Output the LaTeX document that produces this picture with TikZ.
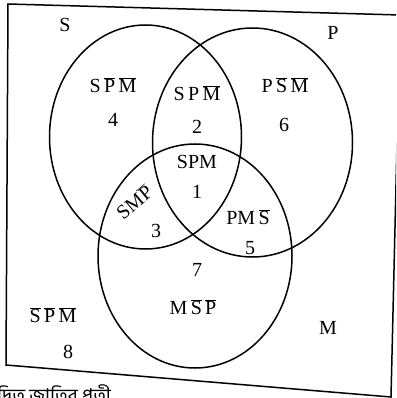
\documentclass[tikz,border=0pt]{standalone}
\usepackage{fontspec}
\setmainfont{Liberation Serif}
\newfontfamily\bnfont[Script=Bengali]{Hind Siliguri}
\newcommand{\olb}[1]{$\overline{\hbox{#1}}$}
\begin{document}
\begin{tikzpicture}[x=1pt,y=-1pt,
  every node/.style={font=\fontsize{20}{24}\selectfont, inner sep=0pt},
  setline/.style={line width=1.5pt, black}]
\useasboundingbox (0,0) rectangle (396,398);
\begin{scope}
\clip (0,0) rectangle (396,398);
% frame
\coordinate (tl) at (8,4);
\coordinate (tr) at (400,15);
\coordinate (br) at (391,397);
\coordinate (bl) at (6,365);
\draw[setline] (tl) -- (tr) -- (br) -- (bl) -- cycle;
% sets
\draw[setline] (145.5,137) ellipse [x radius=96, y radius=112];
\draw[setline] (252.5,142.5) ellipse [x radius=100, y radius=114.5];
\draw[setline] (195,256) ellipse [x radius=97, y radius=112];
% labels
\node (S) at (65,25) {S};
\node (P) at (333,33) {P};
\node (M) at (328,328) {M};
\node (r4) at (113,85) {S\,\olb{P}\,\olb{M}};
\node (n4) at (113,120) {4};
\node (r2) at (197,93) {S\,P\,\olb{M}};
\node (n2) at (197,127) {2};
\node (r6) at (285,85) {P\,\olb{S}\,\olb{M}};
\node (n6) at (284,125) {6};
\node (r1) at (197,162) {SPM};
\node (n1) at (197,192) {1};
\node[rotate=40] (r3) at (134,202) {SM\olb{P}};
\node (n3) at (156,231) {3};
\node (r5) at (248,217) {PM\,\olb{S}};
\node (n5) at (250,248) {5};
\node (n7) at (197,270) {7};
\node (r7) at (193,307) {M\,\olb{S}\,\olb{P}};
\node (r8) at (53,315) {\olb{S}\,\olb{P}\,\olb{M}};
\node (n8) at (68,352) {8};
\node[anchor=base west, font=\bnfont\fontsize{19}{22}\selectfont] (bn) at (-3,402) {দ্বিত জাতির প্রতী};
\end{scope}
\end{tikzpicture}
\end{document}
